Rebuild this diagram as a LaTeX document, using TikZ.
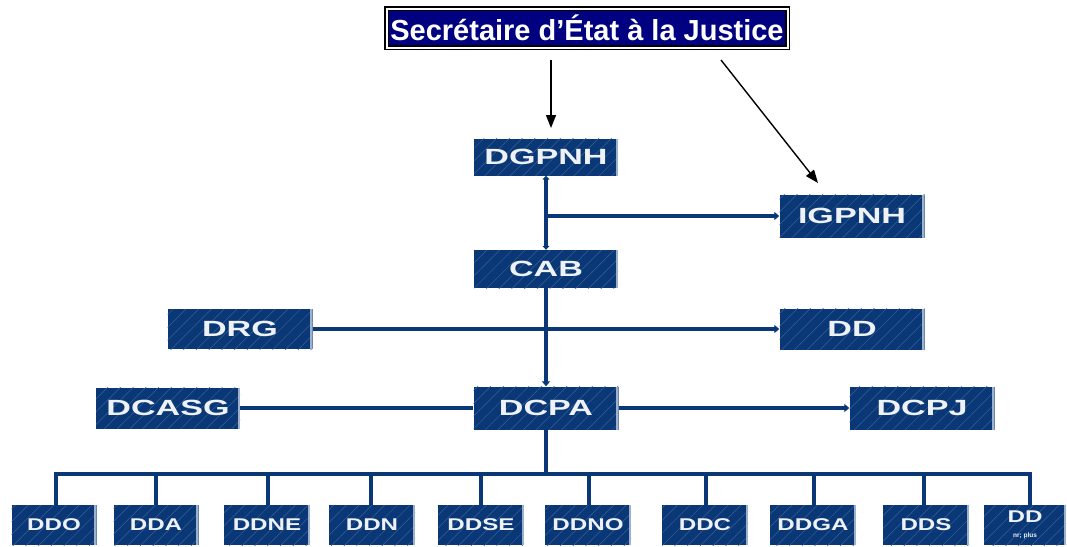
\documentclass[tikz,border=0pt]{standalone}
\usepackage{fontspec}
\setmainfont{Liberation Sans}
\usepackage{graphicx}
\usetikzlibrary{arrows.meta,patterns.meta}
\definecolor{boxblue}{HTML}{0A3877}
\definecolor{hatchblue}{HTML}{3A5F98}
\definecolor{edgeblue}{HTML}{9DB0CC}
\definecolor{lineblue}{HTML}{0A3877}
\definecolor{titlenavy}{HTML}{000080}
\newcommand\wlab[1]{\scalebox{1.55}[1]{#1}}
\newcommand\slab[1]{\scalebox{1.42}[1]{#1}}
\tikzset{
  orgbox/.style={fill=boxblue, inner sep=0pt, text=white!93!boxblue,
    path picture={
      \fill[pattern={Lines[angle=45,distance=9pt,line width=0.5pt]}, pattern color=hatchblue]
        (path picture bounding box.south west) rectangle (path picture bounding box.north east);
      \fill[edgeblue] (path picture bounding box.north east) rectangle ([xshift=-2.5pt]path picture bounding box.south east);
    }},
  bigbox/.style={orgbox, font=\fontsize{22}{22}\selectfont\bfseries},
  smallbox/.style={orgbox, minimum height=40pt, font=\fontsize{17}{17}\selectfont\bfseries},
  conn/.style={draw=lineblue, line width=3.2pt},
  tip/.style={-{Triangle[length=5pt,width=8pt]}},
  blk/.style={draw=black, line width=1.4pt, -{Triangle[length=13pt,width=10pt]}},
  titlebox/.style={fill=titlenavy, draw=black, double=white, double distance=2pt, line width=1.6pt,
    text=white, font=\fontsize{29}{29}\selectfont\bfseries, minimum width=401pt, minimum height=39pt, inner sep=0pt}
}
\begin{document}
\begin{tikzpicture}[x=1pt,y=-1pt]
\useasboundingbox (0,0) rectangle (1067,546);
% title
\node[titlebox] (sec) at (587,28) {Secrétaire d’État à la Justice};
% top boxes
\node[bigbox, minimum width=144pt, minimum height=37pt] (dgpnh) at (546,157) {\wlab{DGPNH}};
\node[bigbox, minimum width=145pt, minimum height=43pt] (igpnh) at (852,216) {\wlab{IGPNH}};
\node[bigbox, minimum width=144pt, minimum height=38pt] (cab) at (546,269) {\wlab{CAB}};
\node[bigbox, minimum width=145pt, minimum height=40pt] (drg) at (240,329) {\wlab{DRG}};
\node[bigbox, minimum width=145pt, minimum height=41pt] (dd) at (852,329) {\wlab{DD}};
\node[bigbox, minimum width=144pt, minimum height=41pt] (dcasg) at (168,408) {\wlab{DCASG}};
\node[bigbox, minimum width=145pt, minimum height=43pt] (dcpa) at (546,408) {\wlab{DCPA}};
\node[bigbox, minimum width=145pt, minimum height=43pt] (dcpj) at (922,408) {\wlab{DCPJ}};
% bottom row
\node[smallbox, minimum width=85pt] (ddo) at (54,525) {\slab{DDO}};
\node[smallbox, minimum width=85pt] (dda) at (156,525) {\slab{DDA}};
\node[smallbox, minimum width=86pt] (ddne) at (267,525) {\slab{DDNE}};
\node[smallbox, minimum width=86pt] (ddn) at (372,525) {\slab{DDN}};
\node[smallbox, minimum width=86pt] (ddse) at (481,525) {\slab{DDSE}};
\node[smallbox, minimum width=86pt] (ddno) at (588,525) {\slab{DDNO}};
\node[smallbox, minimum width=86pt] (ddc) at (705,525) {\slab{DDC}};
\node[smallbox, minimum width=86pt] (ddga) at (813,525) {\slab{DDGA}};
\node[smallbox, minimum width=86pt] (dds) at (926,525) {\slab{DDS}};
\node[smallbox, minimum width=82pt, align=center] (ddx) at (1025,525) {\slab{DD}\\[-2pt]{\fontsize{6.5}{6.5}\selectfont nr; plus}};
% black arrows from title
\coordinate (a1s) at (551,60);
\coordinate (a1e) at (551,128);
\coordinate (a2s) at (721,60);
\coordinate (a2e) at (818,183);
\draw[blk] (a1s) -- (a1e);
\draw[blk] (a2s) -- (a2e);
% connectors
\coordinate (j1) at (546,216);
\draw[conn,{Triangle[length=4pt,width=7pt]}-{Triangle[length=4pt,width=7pt]}] (dgpnh.south) -- (cab.north);
\draw[conn,tip] (j1) -- (igpnh.west);
\draw[conn,tip] (cab.south) -- (dcpa.north);
\draw[conn,tip] (drg.east) -- (dd.west);
\draw[conn] (dcasg.east) -- (dcpa.west);
\draw[conn,tip] (dcpa.east) -- (dcpj.west);
\coordinate (bus) at (546,474);
\coordinate (busL) at (56,474);
\coordinate (busR) at (1030,474);
\draw[conn] (dcpa.south) -- (bus);
\draw[conn, line cap=rect] (busL) -- (busR);
\foreach \n/\x in {ddo/56,dda/156,ddne/268,ddn/371,ddse/481,ddno/589,ddc/706,ddga/814,dds/924,ddx/1030}{
  \draw[conn] (\x,474) -- (\n.north -| \x,0);
}
\end{tikzpicture}
\end{document}
